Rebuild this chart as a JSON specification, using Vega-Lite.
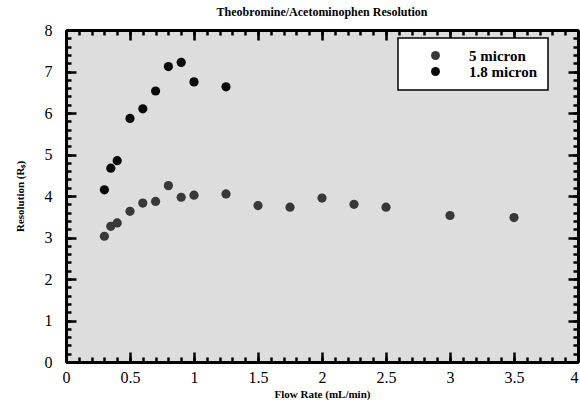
{
  "$schema": "https://vega.github.io/schema/vega-lite/v6.json",
  "width": 512,
  "height": 332,
  "autosize": "none",
  "padding": {"left": 66, "top": 30, "right": 2, "bottom": 42},
  "background": "white",
  "title": {
    "text": "Theobromine/Acetominophen Resolution",
    "font": "Liberation Serif",
    "fontSize": 12,
    "fontWeight": "bold",
    "color": "black",
    "offset": 3
  },
  "config": {
    "view": {"fill": "#dddddd", "stroke": null},
    "legend": {"strokeWidth": 1.5},
    "axis": {
      "grid": false,
      "labelFont": "Liberation Serif",
      "labelFontSize": 16,
      "labelColor": "black",
      "titleFont": "Liberation Serif",
      "titleFontSize": 11,
      "titleFontWeight": "bold",
      "titleColor": "black",
      "tickColor": "black",
      "domainColor": "black",
      "labelFlush": false,
      "labelOverlap": false
    }
  },
  "data": {
    "values": [
      {"flow": 0.3, "res": 3.03, "series": "5 micron"},
      {"flow": 0.35, "res": 3.27, "series": "5 micron"},
      {"flow": 0.4, "res": 3.35, "series": "5 micron"},
      {"flow": 0.5, "res": 3.63, "series": "5 micron"},
      {"flow": 0.6, "res": 3.83, "series": "5 micron"},
      {"flow": 0.7, "res": 3.87, "series": "5 micron"},
      {"flow": 0.8, "res": 4.25, "series": "5 micron"},
      {"flow": 0.9, "res": 3.97, "series": "5 micron"},
      {"flow": 1.0, "res": 4.02, "series": "5 micron"},
      {"flow": 1.25, "res": 4.05, "series": "5 micron"},
      {"flow": 1.5, "res": 3.77, "series": "5 micron"},
      {"flow": 1.75, "res": 3.73, "series": "5 micron"},
      {"flow": 2.0, "res": 3.95, "series": "5 micron"},
      {"flow": 2.25, "res": 3.8, "series": "5 micron"},
      {"flow": 2.5, "res": 3.73, "series": "5 micron"},
      {"flow": 3.0, "res": 3.53, "series": "5 micron"},
      {"flow": 3.5, "res": 3.48, "series": "5 micron"},
      {"flow": 0.3, "res": 4.15, "series": "1.8 micron"},
      {"flow": 0.35, "res": 4.67, "series": "1.8 micron"},
      {"flow": 0.4, "res": 4.85, "series": "1.8 micron"},
      {"flow": 0.5, "res": 5.87, "series": "1.8 micron"},
      {"flow": 0.6, "res": 6.1, "series": "1.8 micron"},
      {"flow": 0.7, "res": 6.53, "series": "1.8 micron"},
      {"flow": 0.8, "res": 7.12, "series": "1.8 micron"},
      {"flow": 0.9, "res": 7.22, "series": "1.8 micron"},
      {"flow": 1.0, "res": 6.75, "series": "1.8 micron"},
      {"flow": 1.25, "res": 6.63, "series": "1.8 micron"}
    ]
  },
  "resolve": {"axis": {"x": "independent", "y": "independent"}},
  "layer": [
    {
      "mark": {"type": "point", "opacity": 0},
      "encoding": {
        "x": {"field": "flow", "type": "quantitative", "scale": {"domain": [0, 4], "nice": false},
          "axis": {"orient": "bottom", "values": [0,0.1,0.2,0.3,0.4,0.5,0.6,0.7,0.8,0.9,1,1.1,1.2,1.3,1.4,1.5,1.6,1.7,1.8,1.9,2,2.1,2.2,2.3,2.4,2.5,2.6,2.7,2.8,2.9,3,3.1,3.2,3.3,3.4,3.5,3.6,3.7,3.8,3.9,4], "labels": false, "title": null, "domain": false, "tickSize": -5, "tickWidth": 2.5}},
        "y": {"field": "res", "type": "quantitative", "scale": {"domain": [0, 8], "nice": false},
          "axis": {"orient": "left", "values": [0,0.2,0.4,0.6,0.8,1,1.2,1.4,1.6,1.8,2,2.2,2.4,2.6,2.8,3,3.2,3.4,3.6,3.8,4,4.2,4.4,4.6,4.8,5,5.2,5.4,5.6,5.8,6,6.2,6.4,6.6,6.8,7,7.2,7.4,7.6,7.8,8], "labels": false, "title": null, "domain": false, "tickSize": -5, "tickWidth": 2.5}}
      }
    },
    {
      "mark": {"type": "point", "opacity": 0},
      "encoding": {
        "x": {"field": "flow", "type": "quantitative", "scale": {"domain": [0, 4], "nice": false},
          "axis": {"orient": "top", "values": [0,0.1,0.2,0.3,0.4,0.5,0.6,0.7,0.8,0.9,1,1.1,1.2,1.3,1.4,1.5,1.6,1.7,1.8,1.9,2,2.1,2.2,2.3,2.4,2.5,2.6,2.7,2.8,2.9,3,3.1,3.2,3.3,3.4,3.5,3.6,3.7,3.8,3.9,4], "labels": false, "title": null, "domain": false, "tickSize": -5, "tickWidth": 2.5}},
        "y": {"field": "res", "type": "quantitative", "scale": {"domain": [0, 8], "nice": false},
          "axis": {"orient": "right", "values": [0,0.2,0.4,0.6,0.8,1,1.2,1.4,1.6,1.8,2,2.2,2.4,2.6,2.8,3,3.2,3.4,3.6,3.8,4,4.2,4.4,4.6,4.8,5,5.2,5.4,5.6,5.8,6,6.2,6.4,6.6,6.8,7,7.2,7.4,7.6,7.8,8], "labels": false, "title": null, "domain": false, "tickSize": -5, "tickWidth": 2.5}}
      }
    },
    {
      "mark": {"type": "point", "opacity": 0},
      "encoding": {
        "x": {"field": "flow", "type": "quantitative", "scale": {"domain": [0, 4], "nice": false},
          "axis": {"orient": "top", "values": [0,0.5,1,1.5,2,2.5,3,3.5,4], "labels": false, "title": null, "domain": true, "domainWidth": 3, "tickSize": -10, "tickWidth": 2.5}},
        "y": {"field": "res", "type": "quantitative", "scale": {"domain": [0, 8], "nice": false},
          "axis": {"orient": "right", "values": [0,1,2,3,4,5,6,7,8], "labels": false, "title": null, "domain": true, "domainWidth": 3, "tickSize": -10, "tickWidth": 2.5}}
      }
    },
    {
      "mark": {"type": "circle", "size": 85, "opacity": 1},
      "encoding": {
        "x": {"field": "flow", "type": "quantitative", "scale": {"domain": [0, 4], "nice": false},
          "axis": {"orient": "bottom", "values": [0,0.5,1,1.5,2,2.5,3,3.5,4], "format": "~g", "title": "Flow Rate (mL/min)", "titlePadding": 3, "labelPadding": 17, "labelAlign": {"condition": {"test": "datum.value >= 4", "value": "right"}, "value": "center"}, "domain": true, "domainWidth": 3, "tickSize": -10, "tickWidth": 2.5}},
        "y": {"field": "res", "type": "quantitative", "scale": {"domain": [0, 8], "nice": false},
          "axis": {"orient": "left", "values": [0,1,2,3,4,5,6,7,8], "format": "~g", "title": "Resolution (Rₛ)", "titlePadding": 19, "labelPadding": 24, "domain": true, "domainWidth": 3, "tickSize": -10, "tickWidth": 2.5}},
        "color": {
          "field": "series", "type": "nominal",
          "scale": {"domain": ["5 micron", "1.8 micron"], "range": ["#383838", "#0a0a0a"]},
          "legend": {
            "title": null,
            "orient": "none",
            "legendX": 332,
            "legendY": 8,
            "fillColor": "white",
            "strokeColor": "black",
            "padding": 10,
            "symbolType": "circle",
            "symbolSize": 80,
            "symbolStrokeWidth": 0,
            "symbolOffset": 20,
            "labelOffset": 26,
            "labelFont": "Liberation Serif",
            "labelFontSize": 15,
            "labelFontWeight": "bold",
            "labelColor": "black",
            "rowPadding": 0
          }
        }
      }
    }
  ]
}
